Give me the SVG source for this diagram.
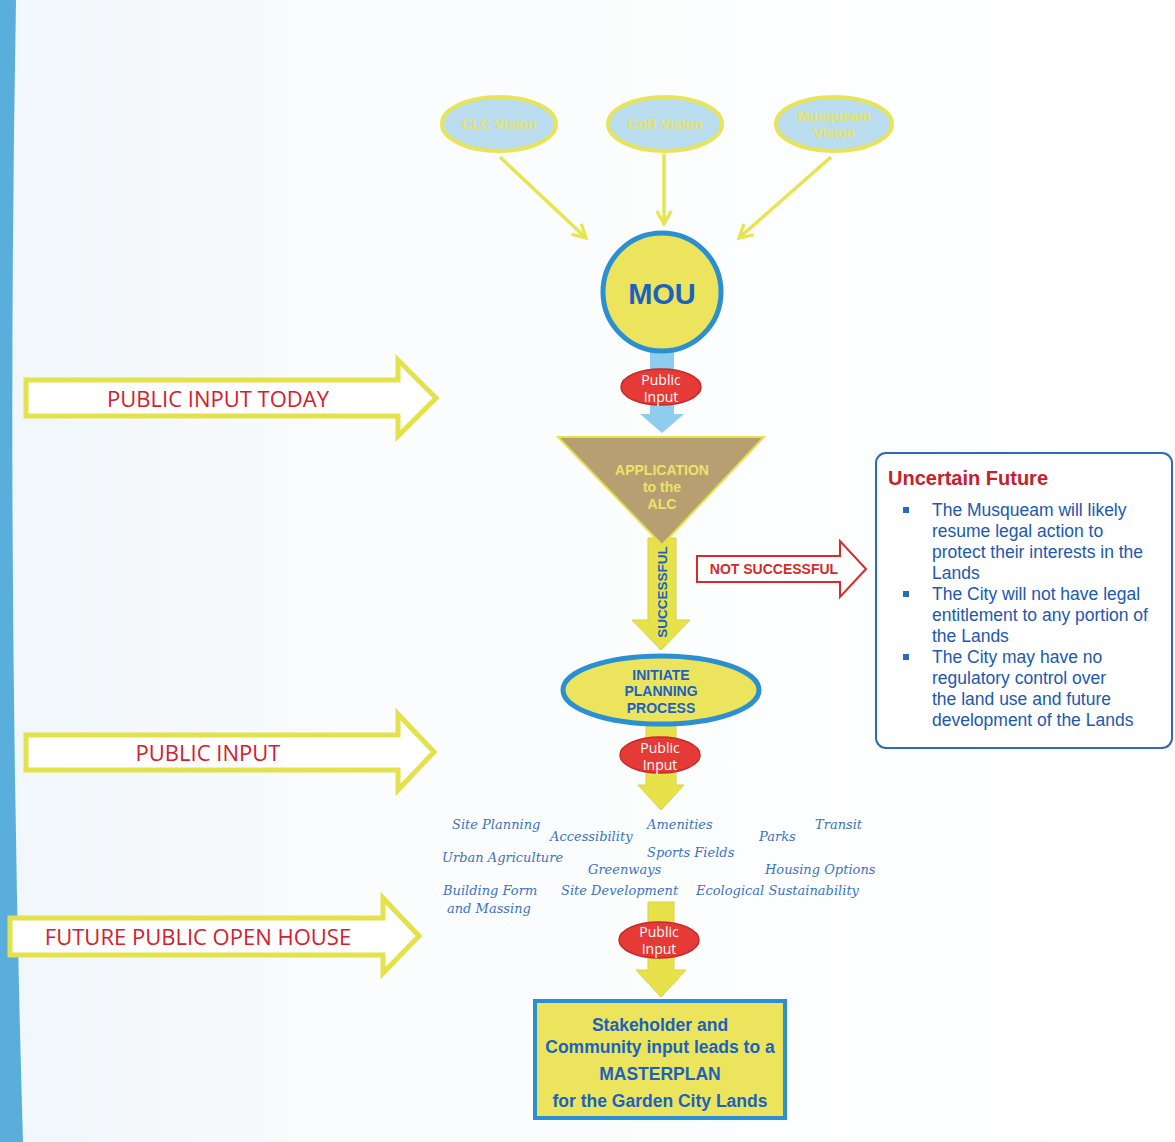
<svg xmlns="http://www.w3.org/2000/svg" width="1175" height="1142" viewBox="0 0 1175 1142">
<defs>
<style>
.bigarrow{fill:#ffffff;stroke:#e4e24a;stroke-width:5;stroke-linejoin:miter}
.bigtxt{font-family:"Open Sans","Noto Sans",sans-serif;font-size:22px;fill:#d4202c;text-anchor:middle;dominant-baseline:central}
.vision{fill:#b9dcef;stroke:#e8e45a;stroke-width:4}
.vtxt{font-family:"Liberation Sans",sans-serif;font-weight:bold;font-size:14px;fill:#e6e46a;text-anchor:middle;dominant-baseline:central}
.link{stroke:#e8e44e;stroke-width:3.5;fill:none}
.pi{fill:#e63a36;stroke:#c82a2a;stroke-width:1.5}
.pitxt{font-family:"Open Sans","Noto Sans",sans-serif;font-size:14px;fill:#ffffff;text-anchor:middle;dominant-baseline:central}
.yel{fill:#e8e24a;stroke:#d8d240;stroke-width:1}
.blue{font-family:"Liberation Sans",sans-serif;font-weight:bold;fill:#1a62c0;text-anchor:middle;dominant-baseline:central}
.hw{font-family:"DejaVu Serif","Liberation Serif",serif;font-style:italic;font-size:13px;fill:#3a72c4}
.ut{font-family:"Liberation Sans",sans-serif;font-size:17.5px;fill:#2058b0}
</style>
<linearGradient id="bg" x1="0" y1="0" x2="1" y2="0">
<stop offset="0" stop-color="#f0f6fa"/>
<stop offset="0.3" stop-color="#fafcfd"/>
<stop offset="1" stop-color="#ffffff"/>
</linearGradient>
<marker id="chev" viewBox="0 0 12 12" refX="10" refY="6" markerWidth="5" markerHeight="5" orient="auto">
<path d="M1,1 L10,6 L1,11" fill="none" stroke="#e8e44e" stroke-width="2.2"/>
</marker>
</defs>
<rect width="1175" height="1142" fill="url(#bg)"/>
<path d="M0,0 L16,0 Q6,560 23,1142 L0,1142 Z" fill="#5aaedb"/>

<g id="arrow-public-input-today">
<path class="bigarrow" d="M26,380 L398,380 L398,360 L436,398 L398,436 L398,416 L26,416 Z"/>
<text class="bigtxt" x="218" y="398">PUBLIC INPUT TODAY</text>
</g>
<g id="arrow-public-input">
<path class="bigarrow" d="M26,735 L398,735 L398,714 L434,752 L398,790 L398,770 L26,770 Z"/>
<text class="bigtxt" x="208" y="752">PUBLIC INPUT</text>
</g>
<g id="arrow-future-open-house">
<path class="bigarrow" d="M10,918 L383,918 L383,898 L419,936 L383,973 L383,955 L10,955 Z"/>
<text class="bigtxt" x="198" y="936">FUTURE PUBLIC OPEN HOUSE</text>
</g>

<g id="connectors">
<line class="link" x1="500" y1="157" x2="586" y2="238" marker-end="url(#chev)"/>
<line class="link" x1="664" y1="154" x2="664" y2="224" marker-end="url(#chev)"/>
<line class="link" x1="831" y1="157" x2="739" y2="238" marker-end="url(#chev)"/>
<path d="M650,350 L674,350 L674,414 L684,414 L662,433 L640,414 L650,414 Z" fill="#8fcdee"/>
<path class="yel" d="M648,538 L676,538 L676,620 L690,620 L661,650 L632,620 L648,620 Z"/>
<path d="M697,556 L840,556 L840,541 L866,569 L840,597 L840,582 L697,582 Z" fill="#ffffff" stroke="#d82a2a" stroke-width="2"/>
<text class="blue" x="774" y="569" style="fill:#d42a2a;font-size:14px">NOT SUCCESSFUL</text>
<text class="blue" x="662" y="592" font-size="13.5" transform="rotate(-90 662 592)">SUCCESSFUL</text>
<path class="yel" d="M646,722 L676,722 L676,785 L684,785 L661,810 L638,785 L646,785 Z"/>
<path class="yel" d="M648,902 L674,902 L674,970 L686,970 L661,997 L636,970 L648,970 Z"/>
</g>

<g id="clc-vision">
<ellipse class="vision" cx="499" cy="124" rx="57" ry="27"/>
<text class="vtxt" x="499" y="124">CLC Vision</text>
</g>
<g id="cor-vision">
<ellipse class="vision" cx="665" cy="124" rx="57" ry="27"/>
<text class="vtxt" x="665" y="124">CoR Vision</text>
</g>
<g id="musqueam-vision">
<ellipse class="vision" cx="834" cy="124" rx="58" ry="27"/>
<text class="vtxt" x="834" y="116">Musqueam</text>
<text class="vtxt" x="834" y="133">Vision</text>
</g>

<g id="mou">
<circle cx="662" cy="292" r="59" fill="#ece45c" stroke="#2a90d2" stroke-width="5"/>
<text class="blue" x="662" y="294" font-size="29">MOU</text>
</g>

<g id="public-input-1">
<ellipse class="pi" cx="661" cy="387" rx="40" ry="18"/>
<text class="pitxt" x="661" y="379">Public</text>
<text class="pitxt" x="661" y="396">Input</text>
</g>

<g id="application-alc">
<path d="M558,437 L764,437 L662,545 Z" fill="#b89f72" stroke="#e4e050" stroke-width="2"/>
<text class="vtxt" x="662" y="470" style="fill:#ebe46a">APPLICATION</text>
<text class="vtxt" x="662" y="487" style="fill:#ebe46a">to the</text>
<text class="vtxt" x="662" y="504" style="fill:#ebe46a">ALC</text>
</g>

<g id="uncertain-future">
<rect x="876" y="453" width="296" height="295" rx="10" fill="#ffffff" stroke="#2a6cb8" stroke-width="2"/>
<text x="888" y="478" style="font-family:'Liberation Sans',sans-serif;font-weight:bold;font-size:20px;fill:#c8202a;dominant-baseline:central">Uncertain Future</text>
<rect x="903" y="507" width="6" height="6" fill="#2a6cb8"/>
<rect x="903" y="591" width="6" height="6" fill="#2a6cb8"/>
<rect x="903" y="654" width="6" height="6" fill="#2a6cb8"/>
<text class="ut" x="932" y="516">The Musqueam will likely</text>
<text class="ut" x="932" y="537">resume legal action to</text>
<text class="ut" x="932" y="558">protect their interests in the</text>
<text class="ut" x="932" y="579">Lands</text>
<text class="ut" x="932" y="600">The City will not have legal</text>
<text class="ut" x="932" y="621">entitlement to any portion of</text>
<text class="ut" x="932" y="642">the Lands</text>
<text class="ut" x="932" y="663">The City may have no</text>
<text class="ut" x="932" y="684">regulatory control over</text>
<text class="ut" x="932" y="705">the land use and future</text>
<text class="ut" x="932" y="726">development of the Lands</text>
</g>

<g id="initiate-planning">
<ellipse cx="661" cy="690" rx="98" ry="34" fill="#ece45c" stroke="#2a90d2" stroke-width="5"/>
<text class="blue" x="661" y="675" font-size="14">INITIATE</text>
<text class="blue" x="661" y="691" font-size="14">PLANNING</text>
<text class="blue" x="661" y="708" font-size="14">PROCESS</text>
</g>

<g id="public-input-2">
<ellipse class="pi" cx="660" cy="755" rx="40" ry="18"/>
<text class="pitxt" x="660" y="747">Public</text>
<text class="pitxt" x="660" y="764">Input</text>
</g>

<g id="planning-topics">
<text class="hw" x="452" y="829">Site Planning</text>
<text class="hw" x="550" y="841">Accessibility</text>
<text class="hw" x="647" y="829">Amenities</text>
<text class="hw" x="815" y="829">Transit</text>
<text class="hw" x="759" y="841">Parks</text>
<text class="hw" x="647" y="857">Sports Fields</text>
<text class="hw" x="442" y="862">Urban Agriculture</text>
<text class="hw" x="588" y="874">Greenways</text>
<text class="hw" x="765" y="874">Housing Options</text>
<text class="hw" x="443" y="895">Building Form</text>
<text class="hw" x="447" y="913">and Massing</text>
<text class="hw" x="561" y="895">Site Development</text>
<text class="hw" x="696" y="895">Ecological Sustainability</text>
</g>

<g id="public-input-3">
<ellipse class="pi" cx="659" cy="940" rx="40" ry="18"/>
<text class="pitxt" x="659" y="931">Public</text>
<text class="pitxt" x="659" y="948">Input</text>
</g>

<g id="masterplan">
<rect x="535" y="1001" width="250" height="117" fill="#ece45c" stroke="#2a90d2" stroke-width="4"/>
<text class="blue" x="660" y="1025" font-size="17.5">Stakeholder and</text>
<text class="blue" x="660" y="1047" font-size="17.5">Community input leads to a</text>
<text class="blue" x="660" y="1074" font-size="17.5">MASTERPLAN</text>
<text class="blue" x="660" y="1101" font-size="17.5">for the Garden City Lands</text>
</g>
</svg>
